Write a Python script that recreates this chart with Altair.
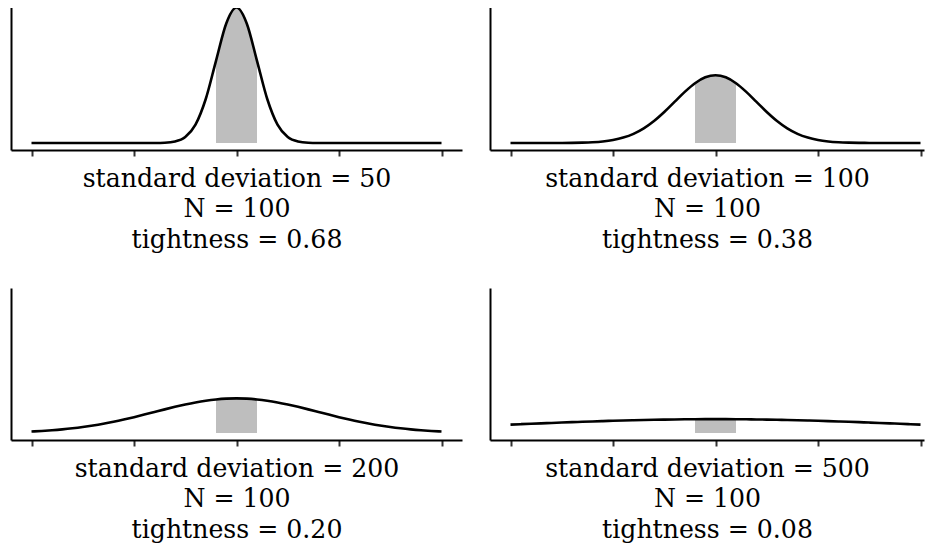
import altair as alt
import pandas as pd

# x positions (shared grid) and the density
x_values = [0, 25, 50, 75, 100, 125, 150, 175, 200, 225, 250, 275, 300, 325, 350,
            375, 400, 425, 450, 475, 500, 525, 550, 575, 600, 625, 650, 675, 700,
            725, 750, 775, 800, 825, 850, 875, 900, 925, 950, 975, 1000]

density_sd50 = [0, 0, 0, 0, 0, 0, 0, 0, 0, 0, 0, 0,
                0.0000027, 0.0000175, 0.0000886, 0.0003506, 0.0010798, 0.0025904,
                0.0048394, 0.0070413, 0.0079788, 0.0070413, 0.0048394, 0.0025904,
                0.0010798, 0.0003506, 0.0000886, 0.0000175, 0.0000027,
                0, 0, 0, 0, 0, 0, 0, 0, 0, 0, 0, 0]

density_sd100 = [0, 0, 0.0000002, 0.0000005, 0.0000013, 0.0000035, 0.0000087,
                 0.0000203, 0.0000443, 0.0000909, 0.0001753, 0.0003174, 0.0005399,
                 0.0008628, 0.0012952, 0.0018265, 0.0024197, 0.0030114, 0.0035207,
                 0.0038667, 0.0039894, 0.0038667, 0.0035207, 0.0030114, 0.0024197,
                 0.0018265, 0.0012952, 0.0008628, 0.0005399, 0.0003174, 0.0001753,
                 0.0000909, 0.0000443, 0.0000203, 0.0000087, 0.0000035, 0.0000013,
                 0.0000005, 0.0000002, 0, 0]

density_sd200 = [0.0000876, 0.0001189, 0.0001587, 0.0002086, 0.0002700, 0.0003439,
                 0.0004314, 0.0005327, 0.0006476, 0.0007751, 0.0009132, 0.0010594,
                 0.0012099, 0.0013603, 0.0015057, 0.0016408, 0.0017603, 0.0018593,
                 0.0019333, 0.0019792, 0.0019947, 0.0019792, 0.0019333, 0.0018593,
                 0.0017603, 0.0016408, 0.0015057, 0.0013603, 0.0012099, 0.0010594,
                 0.0009132, 0.0007751, 0.0006476, 0.0005327, 0.0004314, 0.0003439,
                 0.0002700, 0.0002086, 0.0001587, 0.0001189, 0.0000876]

density_sd500 = [0.00048394, 0.00050812, 0.00053217, 0.00055597, 0.00057938,
                 0.00060227, 0.00062451, 0.00064594, 0.00066645, 0.00068589,
                 0.00070413, 0.00072105, 0.00073654, 0.00075048, 0.00076278,
                 0.00077334, 0.00078209, 0.00078896, 0.00079391, 0.00079689,
                 0.00079788, 0.00079689, 0.00079391, 0.00078896, 0.00078209,
                 0.00077334, 0.00076278, 0.00075048, 0.00073654, 0.00072105,
                 0.00070413, 0.00068589, 0.00066645, 0.00064594, 0.00062451,
                 0.00060227, 0.00057938, 0.00055597, 0.00053217, 0.00050812,
                 0.00048394]

std_devs = [50, 100, 200, 500]
sample_n = [100, 100, 100, 100]
tightness = ["0.68", "0.38", "0.20", "0.08"]
tick_values = [0, 250, 500, 750, 1000]
shade_low = 450
shade_high = 550

FONT = "DejaVu Serif"


def panel(dens, sd, n, tight, xdomain, width, height, ydomain):
    df = pd.DataFrame({"x": x_values, "y": dens})
    x_enc = alt.X(
        "x:Q",
        scale=alt.Scale(domain=xdomain, nice=False, zero=False),
        axis=alt.Axis(
            values=tick_values, labels=False, grid=False, ticks=True,
            tickSize=6, tickColor="#333333", tickWidth=2,
            domainColor="black", domainWidth=2,
            title=[f"standard deviation = {sd}", f"N = {n}", f"tightness = {tight}"],
            titleFont=FONT, titleFontSize=25.2, titleFontWeight="normal",
            titleColor="black", titlePadding=9, titleLineHeight=30.5,
        ),
    )
    y_enc = alt.Y(
        "y:Q",
        scale=alt.Scale(domain=ydomain, nice=False, zero=False),
        axis=alt.Axis(labels=False, ticks=False, grid=False, title=None,
                      domainColor="black", domainWidth=2),
    )
    base = alt.Chart(df)
    area = base.mark_area(color="#BEBEBE", interpolate="monotone").encode(
        x=x_enc, y=y_enc, y2=alt.datum(0)
    ).transform_filter(
        (alt.datum.x >= shade_low) & (alt.datum.x <= shade_high)
    )
    line = base.mark_line(color="black", strokeWidth=2.6, interpolate="monotone").encode(
        x=x_enc, y=y_enc
    )
    return alt.layer(area, line).properties(width=width, height=height)


top_ydom = [-0.000412, 0.008067]
bot_ydom = [-0.000402, 0.008346]
left_xdom = [-50, 1050]
right_xdom = [-50, 1008.5]

p1 = panel(density_sd50, std_devs[0], sample_n[0], tightness[0], left_xdom, 451, 144, top_ydom)
p2 = panel(density_sd100, std_devs[1], sample_n[1], tightness[1], right_xdom, 434, 144, top_ydom)
p3 = panel(density_sd200, std_devs[2], sample_n[2], tightness[2], left_xdom, 451, 152, bot_ydom)
p4 = panel(density_sd500, std_devs[3], sample_n[3], tightness[3], right_xdom, 434, 152, bot_ydom)

row1 = alt.hconcat(p1, p2, spacing=28)
row2 = alt.hconcat(p3, p4, spacing=28)

chart = alt.vconcat(row1, row2, spacing=35).properties(
    padding={"left": 3, "top": -6, "right": 0, "bottom": 0},
    background="white",
).configure_view(strokeWidth=0)

chart.save("out.html", embed_options={"renderer": "svg", "actions": False})
